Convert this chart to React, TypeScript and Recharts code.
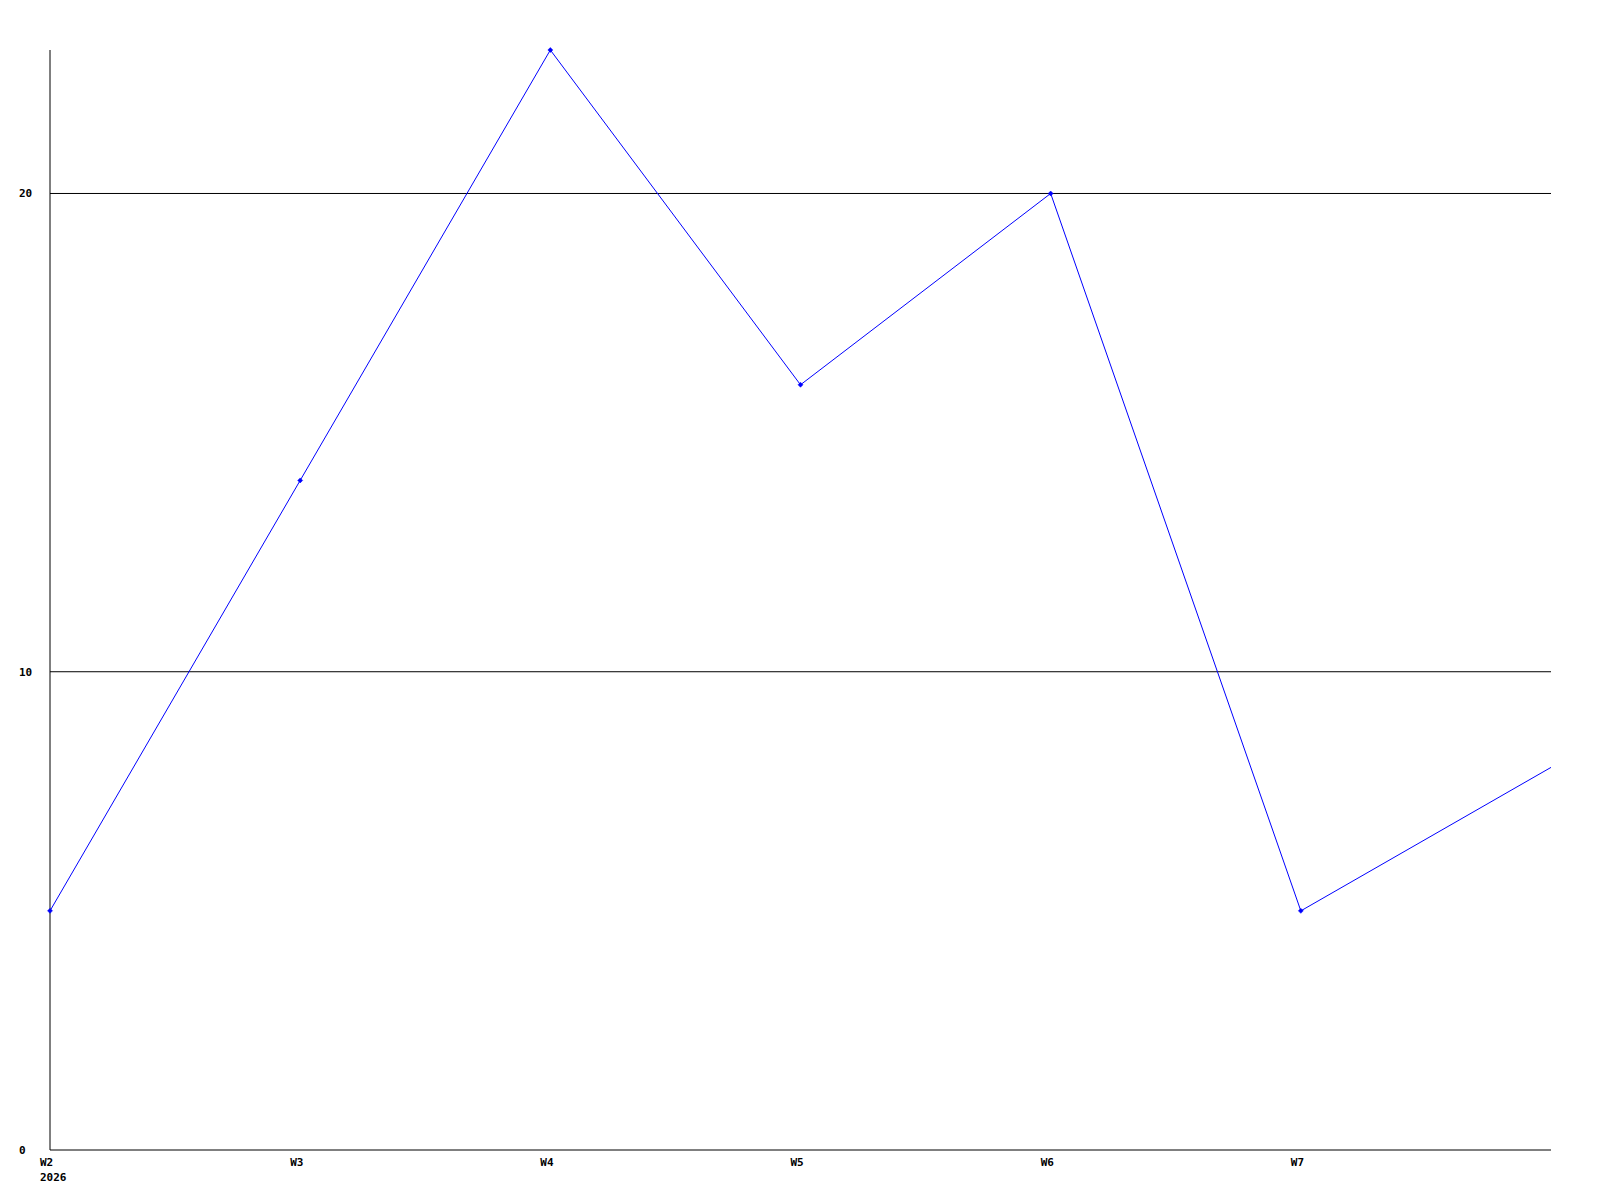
import { CartesianGrid, Line, LineChart, XAxis, YAxis } from 'recharts';

const weeks = ['W2', 'W3', 'W4', 'W5', 'W6', 'W7', 'W8'];
const counts = [5, 14, 23, 16, 20, 5, 8];
const yTicks = [0, 10, 20];
const gridValues = [10, 20];

const data = weeks.map((week, i) => ({ week, count: counts[i] }));

const FONT = '"DejaVu Sans Mono", "Liberation Mono", monospace';

function XTick(props: any): JSX.Element | null {
  const { x, y, payload, index } = props;
  if (index === weeks.length - 1) return null;
  return (
    <g>
      <text x={x - 10} y={y + 8} fill="#000" fontFamily={FONT} fontSize={11} fontWeight="bold" textAnchor="start">
        {payload.value}
      </text>
      {index === 0 && (
        <text x={x - 10} y={y + 23} fill="#000" fontFamily={FONT} fontSize={11} fontWeight="bold" textAnchor="start">
          2026
        </text>
      )}
    </g>
  );
}

function YTick(props: any): JSX.Element {
  const { y, payload } = props;
  return (
    <text x={19} y={y + 4} fill="#000" fontFamily={FONT} fontSize={11} fontWeight="bold" textAnchor="start">
      {payload.value}
    </text>
  );
}

function Dot(props: any): JSX.Element | null {
  const { cx, cy, index } = props;
  if (index === weeks.length - 1) return null;
  return <path d={`M${cx - 2.5},${cy} L${cx},${cy - 2.5} L${cx + 2.5},${cy} L${cx},${cy + 2.5} Z`} fill="#0000ff" stroke="#0000ff" strokeWidth={0.5} />;
}

export default function App(): JSX.Element {
  return (
    <div style={{ position: 'absolute', left: 0, top: 0, background: '#fff' }}>
      <LineChart width={1600} height={1200} data={data} margin={{ top: 50, right: 49, bottom: 0, left: 0 }}>
        <CartesianGrid vertical={false} horizontalValues={gridValues} stroke="#000" strokeWidth={1} />
        <XAxis
          dataKey="week"
          interval={0}
          height={50}
          axisLine={{ stroke: '#000', strokeWidth: 1 }}
          tickLine={false}
          tick={<XTick />}
        />
        <YAxis
          domain={[0, 23]}
          ticks={yTicks}
          width={50}
          axisLine={{ stroke: '#000', strokeWidth: 1 }}
          tickLine={false}
          tick={<YTick />}
        />
        <Line
          type="linear"
          dataKey="count"
          stroke="#0000ff"
          strokeWidth={1}
          dot={<Dot />}
          activeDot={false}
          isAnimationActive={false}
        />
      </LineChart>
    </div>
  );
}
